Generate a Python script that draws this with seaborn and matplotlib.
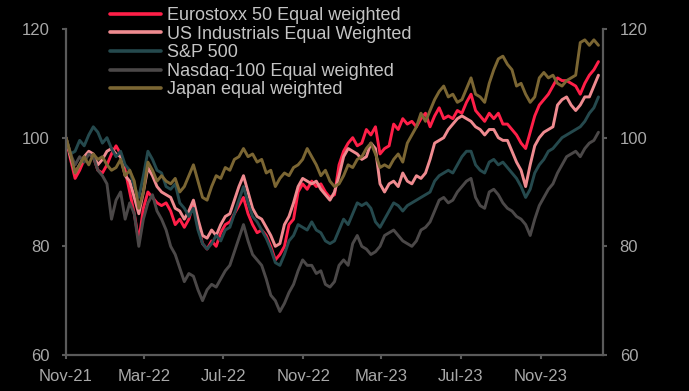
#!/usr/bin/env python3
"""
Equal weighted indices vs S&P 500, rebased to 100 (Nov-21)
"""

import pandas as pd
import numpy as np
import matplotlib
matplotlib.use('Agg')
import matplotlib.pyplot as plt
import matplotlib.dates as mdates
import seaborn as sns

# weekly readings, rebased 100 at start
start_date = '2021-11-01'

eurostoxx = [100, 96, 92.5, 94, 96, 97, 96.5, 94, 93.5, 95, 97, 98.5, 97, 94, 90, 86, 81, 87, 90, 89,
             88, 87.5, 88, 86.5, 84, 85, 83.5, 85, 88, 84, 80.5, 79.5, 81, 80, 82.5, 84, 84.5, 86, 87.5, 89,
             86, 84, 82.5, 83, 82, 80, 77.5, 78.5, 80, 84, 85, 90, 91.5, 90.5, 92, 91, 91.5, 90, 89, 89.5,
             95, 97.5, 99, 100, 98.5, 99, 101.5, 100.5, 102, 97, 98, 98.5, 102.5, 101.5, 103.5, 102.5, 103, 102, 103.5, 104.5,
             102, 104, 105.5, 103.5, 104, 103.5, 105, 104.5, 106.5, 108, 105, 104, 103, 104.5, 103.5, 104.5, 102.5, 102.5, 101.5, 100.5,
             99, 98, 101, 104, 106, 107, 108, 109.5, 111, 110.5, 110.5, 110, 109.5, 108, 110, 111.5, 112.5, 114]

us_industrials = [100, 96.5, 93.5, 95, 96.5, 97.5, 97, 95, 96, 97.5, 98, 97, 96.5, 93, 92, 89, 86, 90, 94.5, 93,
                  91, 90, 89.5, 89, 87, 86.5, 85, 86.5, 88.5, 85, 82, 81.5, 83, 82, 84, 85.5, 86, 88.5, 91, 93,
                  90, 87, 85.5, 85, 83.5, 82, 80, 80.5, 84, 85.5, 88, 91, 92.5, 92, 91.5, 92, 90.5, 89.5, 88.5, 90,
                  93, 96.5, 98, 97.5, 97, 96, 96.5, 99, 98, 91.5, 90, 91.5, 92, 91, 93.5, 92, 91.5, 93, 92.5, 93.5,
                  96, 99, 99.5, 100, 101.5, 102.5, 103.5, 104, 103.5, 103, 102, 101.5, 100.5, 101.5, 101.5, 100, 99.5, 99.5, 97.5, 95.5,
                  94, 91, 95, 98.5, 100, 101, 101.5, 102, 106, 107, 107.5, 106, 105, 106, 107.5, 107.5, 109.5, 111.5]

sp500 = [100, 97, 97.5, 99.5, 98.5, 100.5, 102, 101, 99, 100, 98, 96.5, 97.5, 95, 94, 91, 89, 93, 97.5, 96,
         94, 93.5, 91, 90.5, 91.5, 88, 87, 85.5, 87, 83, 80.5, 79.5, 80.5, 82, 81, 83, 83.5, 86, 88.5, 91,
         88, 85.5, 84.5, 83, 81.5, 79.5, 77, 76.5, 78.5, 81, 82, 84, 83.5, 83, 84.5, 83, 82.5, 81, 80.5, 81,
         83, 85, 84, 86, 88, 87.5, 88, 87, 84.5, 83.5, 85, 86.5, 88, 87.5, 86.5, 87.5, 88, 88.5, 89, 89.5,
         90, 92, 93, 93.5, 94, 93.5, 95, 96.5, 97.5, 97.5, 95, 94, 93.5, 95.5, 96, 95, 95.5, 94.5, 93.5, 92.5,
         91, 89, 90.5, 93.5, 95, 96, 97.5, 98, 99, 100, 100.5, 101, 101.5, 102, 103, 104.5, 105.5, 107.5]

nasdaq_ew = [100, 97, 95, 96.5, 95.5, 97, 96.5, 94, 93, 91.5, 85, 88.5, 90, 85, 88, 86, 80, 85, 88, 89.5,
             86.5, 85, 83, 80, 78.5, 76, 73.5, 75, 74.5, 72, 70, 72, 73, 72.5, 74, 75.5, 76.5, 79, 81.5, 84,
             81, 78.5, 77.5, 76.5, 74, 71, 70, 68, 69.5, 71.5, 73, 75.5, 77.5, 76.5, 76.5, 75, 75.5, 73, 72.5, 73.5,
             76.5, 77.5, 76.5, 80.5, 82, 80, 79.5, 78.5, 79, 80, 82, 82.5, 83, 82, 81, 80.5, 80, 81, 83, 83.5,
             84.5, 86.5, 88.5, 89, 88, 88.5, 90, 91, 92, 92.5, 89, 87.5, 87, 90, 90.5, 89.5, 88, 87, 86.5, 85.5,
             85, 84, 82, 85, 87.5, 89, 90.5, 91.5, 93.5, 95, 96.5, 97, 97.5, 96.5, 98, 99, 99.5, 101]

japan_ew = [100, 97, 93.5, 95, 96.5, 95, 97, 96, 96.5, 95, 94, 94.5, 96, 93, 94, 92, 87, 90, 95.5, 94,
            92, 93, 92, 91.5, 92.5, 90, 91, 93, 95, 92, 89, 88.5, 91, 93, 92.5, 94.5, 94, 96, 96.5, 98,
            96.5, 97, 95.5, 96, 93.5, 94, 91, 92.5, 93.5, 93, 94.5, 95, 96, 98, 96.5, 95, 93, 94, 92, 91,
            91.5, 93, 95, 94.5, 96, 96.5, 98, 99, 97, 94.5, 95, 94.5, 96, 97, 95.5, 99, 100.5, 102, 104.5, 103,
            105, 107, 108.5, 109.5, 107.5, 108, 106.5, 107, 109, 111, 108, 107.5, 106.5, 110, 112.5, 114.5, 115, 113.5, 112.5, 109.5,
            110, 108, 106.5, 107.5, 111, 112, 111, 111.5, 110, 109.5, 110.5, 111, 111.5, 117.5, 118, 117, 118, 117]

series_names = ['Eurostoxx 50 Equal weighted', 'US Industrials Equal Weighted', 'S&P 500',
                'Nasdaq-100 Equal weighted', 'Japan equal weighted']
series_colors = ['#ff1f48', '#ef8b90', '#25494d', '#4b4848', '#7b6633']

y_ticks = [60, 80, 100, 120]

BG = 'black'
SPINE = '#5a5a5a'
TICK_TXT = '#a8a8a8'
LEGEND_TXT = '#c4c4c4'


def build_frame():
    dates = pd.date_range(start_date, periods=len(eurostoxx), freq='7D')
    values = [eurostoxx, us_industrials, sp500, nasdaq_ew, japan_ew]
    frames = []
    for name, vals in zip(series_names, values):
        frames.append(pd.DataFrame({'date': dates, 'value': vals, 'series': name}))
    return pd.concat(frames, ignore_index=True)


def main():
    sns.set_theme(style='ticks')
    plt.rcParams['font.family'] = ['Liberation Sans', 'DejaVu Sans']

    df = build_frame()

    fig = plt.figure(figsize=(6.89, 3.91), dpi=100, facecolor=BG)
    ax = fig.add_axes([66 / 689, 1 - 355 / 391, (603 - 66) / 689, (355 - 29) / 391])
    ax.set_facecolor(BG)

    sns.lineplot(data=df, x='date', y='value', hue='series', hue_order=series_names,
                 palette=series_colors, linewidth=2.1, ax=ax, legend=False)

    ax.set_xlim(pd.Timestamp('2021-11-01'), pd.Timestamp('2024-02-05'))
    ax.set_ylim(60, 120)
    ax.set_yticks(y_ticks)
    ax.set_xlabel('')
    ax.set_ylabel('')

    ax.xaxis.set_major_locator(mdates.MonthLocator(bymonth=[3, 7, 11]))
    ax.xaxis.set_major_formatter(mdates.DateFormatter('%b-%y'))

    ax2 = ax.twinx()
    ax2.set_ylim(60, 120)
    ax2.set_yticks(y_ticks)

    for a in (ax, ax2):
        for side in ['top', 'right', 'left', 'bottom']:
            a.spines[side].set_visible(False)
        a.tick_params(colors=SPINE, labelcolor=TICK_TXT, labelsize=12,
                      length=3, width=1.5, pad=9)
    ax.spines['left'].set_visible(True)
    ax.spines['bottom'].set_visible(True)
    ax2.spines['right'].set_visible(True)
    for sp in [ax.spines['left'], ax.spines['bottom'], ax2.spines['right']]:
        sp.set_color(SPINE)
        sp.set_linewidth(1.6)
    ax.tick_params(axis='x', pad=7)

    handles = ax.get_lines()[:len(series_names)]
    leg = fig.legend(handles, series_names, loc='upper left',
                     bbox_to_anchor=(110 / 689, 1 - 7 / 391), frameon=False,
                     fontsize=13, handlelength=2.85, handletextpad=0.28,
                     labelspacing=0.09, borderpad=0, borderaxespad=0)
    for t in leg.get_texts():
        t.set_color(LEGEND_TXT)
    for line in leg.get_lines():
        line.set_linewidth(2.6)

    fig.savefig('out.png', dpi=100, facecolor=BG)


if __name__ == "__main__":
    main()
